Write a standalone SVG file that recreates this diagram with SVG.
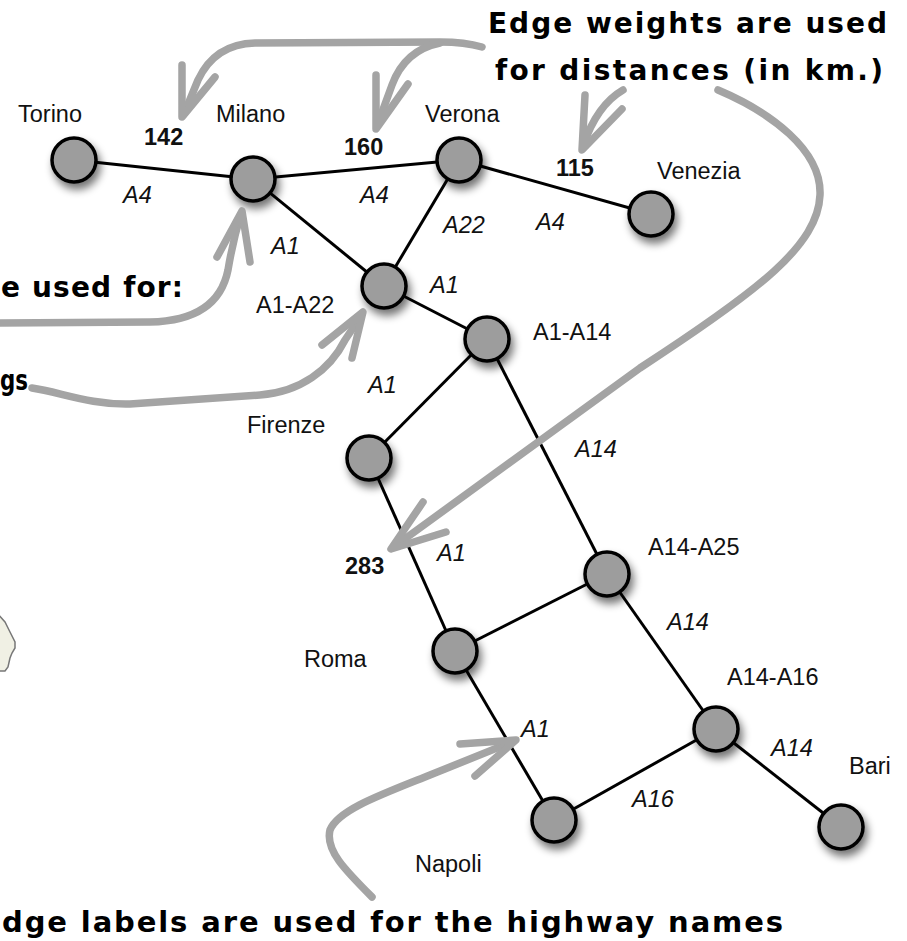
<svg xmlns="http://www.w3.org/2000/svg" width="907" height="941" viewBox="0 0 907 941">
<defs>
<filter id="sh" x="-60%" y="-60%" width="220%" height="220%">
<feGaussianBlur in="SourceAlpha" stdDeviation="4"/>
<feOffset dx="3" dy="6" result="b"/>
<feComponentTransfer><feFuncA type="linear" slope="0.55"/></feComponentTransfer>
<feMerge><feMergeNode/><feMergeNode in="SourceGraphic"/></feMerge>
</filter>
<style>
.node circle{fill:#9d9d9d;stroke:#000;stroke-width:3.5;filter:url(#sh)}
.edge{stroke:#000;stroke-width:3;fill:none}
.lbl{font-family:"Liberation Sans",Arial,sans-serif;font-size:23.5px;fill:#111}
.el{font-style:italic}
.w{font-weight:bold}
.note{font-family:"DejaVu Sans","Liberation Sans",sans-serif;font-weight:bold;fill:#000}
.ann{stroke:#a4a4a4;stroke-width:7.5;fill:none;stroke-linecap:round;stroke-linejoin:round}
</style>
</defs>
<rect width="907" height="941" fill="#fff"/>

<!-- map fragment -->
<path d="M-2,614 L5,622 L10,632 L15,642 L15,648 L12,653 L10,658 L8,667 L5,671 L-2,671 Z" fill="#f0f0e4" stroke="#777" stroke-width="1.5"/>

<g id="connectors">
<line class="edge" x1="74" y1="160" x2="253" y2="179"/>
<line class="edge" x1="253" y1="179" x2="459" y2="160"/>
<line class="edge" x1="253" y1="179" x2="384" y2="286"/>
<line class="edge" x1="459" y1="160" x2="384" y2="286"/>
<line class="edge" x1="459" y1="160" x2="651" y2="214"/>
<line class="edge" x1="384" y1="286" x2="487" y2="339"/>
<line class="edge" x1="487" y1="339" x2="369" y2="458"/>
<line class="edge" x1="487" y1="339" x2="607" y2="574"/>
<line class="edge" x1="369" y1="458" x2="455" y2="651"/>
<line class="edge" x1="455" y1="651" x2="607" y2="574"/>
<line class="edge" x1="455" y1="651" x2="554" y2="820"/>
<line class="edge" x1="607" y1="574" x2="716" y2="729"/>
<line class="edge" x1="554" y1="820" x2="716" y2="729"/>
<line class="edge" x1="716" y1="729" x2="841" y2="827"/>

<!-- edge labels -->
<text class="lbl el" x="123" y="203">A4</text>
<text class="lbl el" x="360" y="203">A4</text>
<text class="lbl el" x="271" y="254">A1</text>
<text class="lbl el" x="443" y="233">A22</text>
<text class="lbl el" x="536" y="230">A4</text>
<text class="lbl el" x="430" y="293">A1</text>
<text class="lbl el" x="368" y="393">A1</text>
<text class="lbl el" x="575" y="457">A14</text>
<text class="lbl el" x="437" y="561">A1</text>
<text class="lbl el" x="667" y="630">A14</text>
<text class="lbl el" x="521" y="737">A1</text>
<text class="lbl el" x="632" y="807">A16</text>
<text class="lbl el" x="771" y="756">A14</text>

<!-- edge weights -->
<text class="lbl w" x="144" y="145">142</text>
<text class="lbl w" x="344" y="155">160</text>
<text class="lbl w" x="556" y="176">115</text>
<text class="lbl w" x="345" y="574">283</text>
</g>

<g id="n-torino" class="node"><circle cx="74" cy="160" r="22"/><text class="lbl" x="18" y="122">Torino</text></g>
<g id="n-milano" class="node"><circle cx="253" cy="179" r="22"/><text class="lbl" x="216" y="122">Milano</text></g>
<g id="n-verona" class="node"><circle cx="459" cy="160" r="22"/><text class="lbl" x="425" y="122">Verona</text></g>
<g id="n-venezia" class="node"><circle cx="651" cy="214" r="22"/><text class="lbl" x="657" y="179">Venezia</text></g>
<g id="n-a1a22" class="node"><circle cx="384" cy="286" r="22"/><text class="lbl" x="256" y="313">A1-A22</text></g>
<g id="n-a1a14" class="node"><circle cx="487" cy="339" r="22"/><text class="lbl" x="533" y="340">A1-A14</text></g>
<g id="n-firenze" class="node"><circle cx="369" cy="458" r="22"/><text class="lbl" x="247" y="433">Firenze</text></g>
<g id="n-a14a25" class="node"><circle cx="607" cy="574" r="22"/><text class="lbl" x="648" y="555">A14-A25</text></g>
<g id="n-roma" class="node"><circle cx="455" cy="651" r="22"/><text class="lbl" x="304" y="667">Roma</text></g>
<g id="n-a14a16" class="node"><circle cx="716" cy="729" r="22"/><text class="lbl" x="727" y="685">A14-A16</text></g>
<g id="n-napoli" class="node"><circle cx="554" cy="820" r="22"/><text class="lbl" x="415" y="872">Napoli</text></g>
<g id="n-bari" class="node"><circle cx="841" cy="827" r="22"/><text class="lbl" x="849" y="774">Bari</text></g>

<g id="annotations">
<text class="note" x="488" y="33" font-size="28" textLength="399" lengthAdjust="spacing">Edge weights are used</text>
<text class="note" x="495" y="80" font-size="28" textLength="388" lengthAdjust="spacing">for distances (in km.)</text>
<text class="note" x="1" y="297" font-size="28" textLength="182" lengthAdjust="spacing">e used for:</text>
<text class="note" x="0" y="390" font-size="28" textLength="28" lengthAdjust="spacingAndGlyphs">gs</text>
<text class="note" x="2" y="932" font-size="29" textLength="781" lengthAdjust="spacing">dge labels are used for the highway names</text>

<!-- 142 / 160 -->
<path class="ann" d="M482,47 Q465,42 440,42 L255,43 Q215,44 198,80 L184,114"/>
<path class="ann" d="M182,65 L182,117 L215,77"/>
<path class="ann" d="M440,43 Q405,50 392,85 L377,126"/>
<path class="ann" d="M376,75 L376,129 L408,84"/>
<!-- 115 -->
<path class="ann" d="M623,90 Q597,105 583,146"/>
<path class="ann" d="M585,95 L582,150 L622,109"/>
<!-- 283 -->
<path class="ann" d="M718,90 C770,112 822,150 820,195 C818,245 760,290 640,368 L395,546"/>
<path class="ann" d="M423,502 L391,549 L446,532"/>
<!-- Milano -->
<path class="ann" d="M-5,323 L150,322 C200,321 222,300 228,270 Q233,240 241,214"/>
<path class="ann" d="M217,257 L242,211 L250,262"/>
<!-- A1-A22 -->
<path class="ann" d="M32,388 C60,392 90,405 130,404 L260,395 C300,392 330,370 345,340 L361,316"/>
<path class="ann" d="M322,345 L363,312 L352,358"/>
<!-- A1 Napoli -->
<path class="ann" d="M372,897 C345,870 325,850 330,830 C338,810 380,795 430,775 L512,742"/>
<path class="ann" d="M460,744 L516,740 L475,776"/>
</g>
</svg>
